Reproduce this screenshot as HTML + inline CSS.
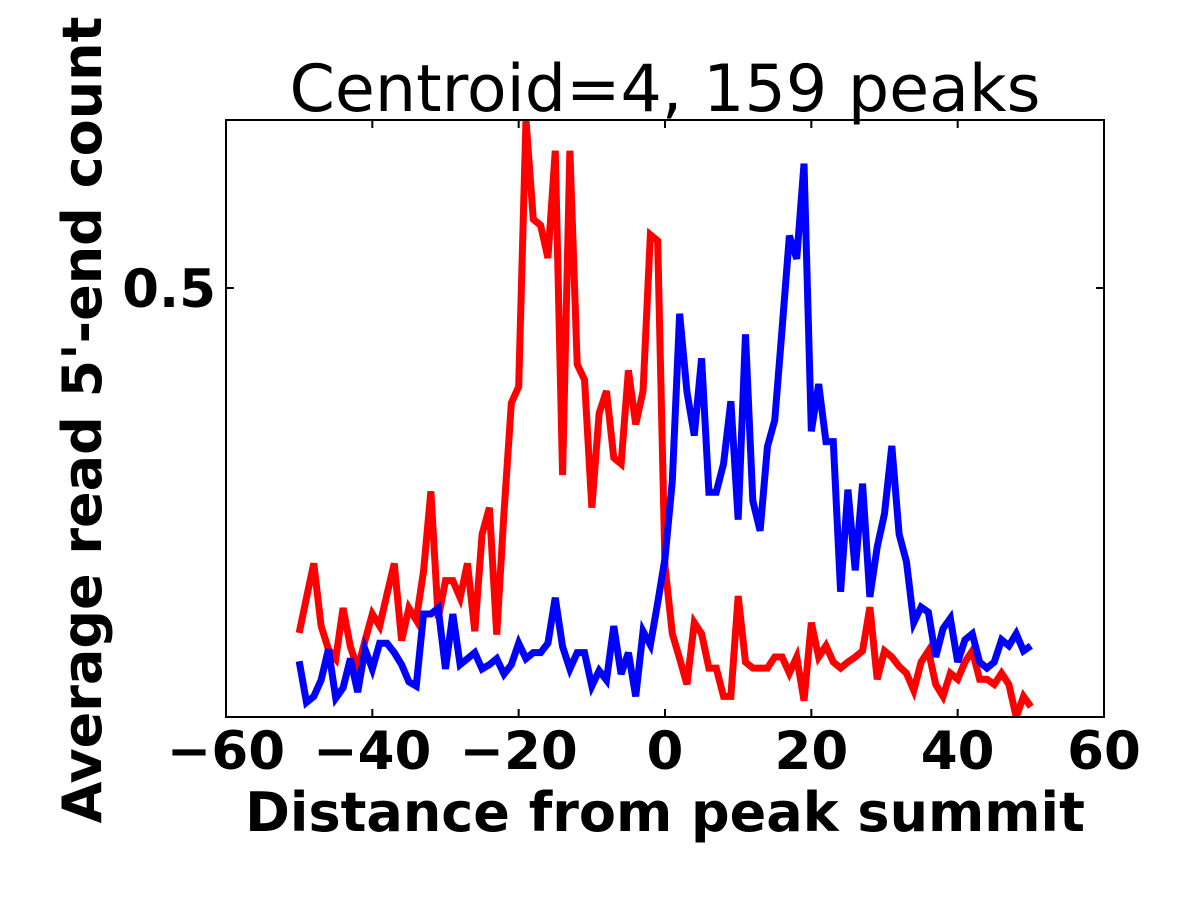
<!DOCTYPE html>
<html><head><meta charset="utf-8"><style>
body{margin:0;background:#fff;}
svg text{font-family:"DejaVu Sans","Liberation Sans",sans-serif;}
</style></head><body>
<svg id="chart" width="1200" height="900" viewBox="0 0 1200 900">
<rect width="1200" height="900" fill="#fff"/>
<defs><clipPath id="pc"><rect x="226" y="120" width="878" height="597"/></clipPath></defs>
<text x="665" y="111" font-size="65" text-anchor="middle">Centroid=4, 159 peaks</text>
<g id="series" clip-path="url(#pc)"></g>
<rect x="226" y="120" width="878" height="597" fill="none" stroke="#000" stroke-width="2"/>
<g id="ticks"></g>
<text x="665" y="831" font-size="54" font-weight="bold" text-anchor="middle">Distance from peak summit</text>
<text transform="translate(101,420) rotate(-90)" font-size="54" font-weight="bold" text-anchor="middle">Average read 5'-end count</text>
</svg>
<script>
const xTicks = [-60, -40, -20, 0, 20, 40, 60];
const xTickLabels = ["\u221260", "\u221240", "\u221220", "0", "20", "40", "60"];
const yTicks = [0.5];
const yTickLabels = ["0.5"];
const positions = [];
for (let i = -50; i <= 50; i++) positions.push(i);
const redValues = [0.098,0.139,0.179,0.106,0.079,0.068,0.127,0.082,0.056,0.089,
0.120,0.106,0.143,0.179,0.089,0.127,0.113,0.170,0.263,0.115,
0.159,0.159,0.139,0.179,0.100,0.213,0.244,0.096,0.239,0.366,
0.385,0.696,0.580,0.573,0.535,0.660,0.282,0.660,0.411,0.393,
0.244,0.354,0.380,0.302,0.295,0.404,0.341,0.380,0.562,0.555,
0.176,0.097,0.068,0.038,0.110,0.097,0.057,0.057,0.024,0.024,
0.141,0.064,0.057,0.057,0.057,0.070,0.070,0.051,0.070,0.019,
0.110,0.070,0.083,0.064,0.057,0.064,0.070,0.077,0.128,0.044,
0.077,0.070,0.059,0.051,0.031,0.064,0.077,0.038,0.024,0.051,
0.044,0.064,0.077,0.044,0.044,0.038,0.051,0.038,0.000,0.024,0.012];
const blueValues = [0.065,0.017,0.024,0.043,0.079,0.022,0.034,0.068,0.029,0.079,
0.056,0.086,0.086,0.075,0.061,0.041,0.036,0.120,0.120,0.127,
0.056,0.120,0.061,0.068,0.075,0.056,0.061,0.068,0.050,0.061,
0.086,0.068,0.075,0.075,0.086,0.139,0.082,0.056,0.075,0.075,
0.036,0.054,0.043,0.106,0.050,0.075,0.024,0.100,0.084,0.133,
0.185,0.275,0.470,0.379,0.328,0.418,0.262,0.262,0.295,0.368,
0.230,0.446,0.252,0.217,0.315,0.346,0.452,0.561,0.534,0.645,
0.333,0.388,0.321,0.321,0.146,0.265,0.171,0.272,0.140,0.198,
0.237,0.316,0.213,0.181,0.110,0.128,0.122,0.070,0.103,0.115,
0.064,0.090,0.097,0.064,0.057,0.064,0.090,0.083,0.097,0.077,0.083];

const X0=226,X1=1104,Y0=717,Y1=120, xMin=-60,xMax=60,yMin=0,yMax=0.6958;
const sx=v=>X0+(v-xMin)/(xMax-xMin)*(X1-X0);
const sy=v=>Y0-(v-yMin)/(yMax-yMin)*(Y0-Y1);
const NS="http://www.w3.org/2000/svg";
const g=document.getElementById('series');
function drawLine(vals,color,name){
  const p=document.createElementNS(NS,'polyline');
  p.setAttribute('points',vals.map((v,i)=>sx(positions[i])+','+sy(v)).join(' '));
  p.setAttribute('fill','none');p.setAttribute('stroke',color);
  p.setAttribute('stroke-width','7');p.setAttribute('stroke-linejoin','miter');
  
  
  g.appendChild(p);
}
drawLine(redValues,'#ff0000','red-series-line');
drawLine(blueValues,'#0000ff','blue-series-line');
const t=document.getElementById('ticks');
function mk(tag,attrs){const e=document.createElementNS(NS,tag);for(const k in attrs)e.setAttribute(k,attrs[k]);t.appendChild(e);return e;}
xTicks.forEach((v,i)=>{
  const x=sx(v);
  const a=mk('line',{x1:x,x2:x,y1:Y0,y2:Y0-8,stroke:'#000','stroke-width':2});
  
  
  const b=mk('line',{x1:x,x2:x,y1:Y1,y2:Y1+8,stroke:'#000','stroke-width':2});
  
  
  const tx=mk('text',{x:x,y:Y0+52,'font-size':53,'font-weight':'bold','text-anchor':'middle'});
  tx.textContent=xTickLabels[i];
  
  
});
yTicks.forEach((v,i)=>{
  const y=sy(v);
  const a=mk('line',{x1:X0,x2:X0+8,y1:y,y2:y,stroke:'#000','stroke-width':2});
  
  
  const b=mk('line',{x1:X1,x2:X1-8,y1:y,y2:y,stroke:'#000','stroke-width':2});
  
  
  const tx=mk('text',{x:X0-10,y:y+19,'font-size':53,'font-weight':'bold','text-anchor':'end'});
  tx.textContent=yTickLabels[i];
  
  
});
</script>
</body></html>
